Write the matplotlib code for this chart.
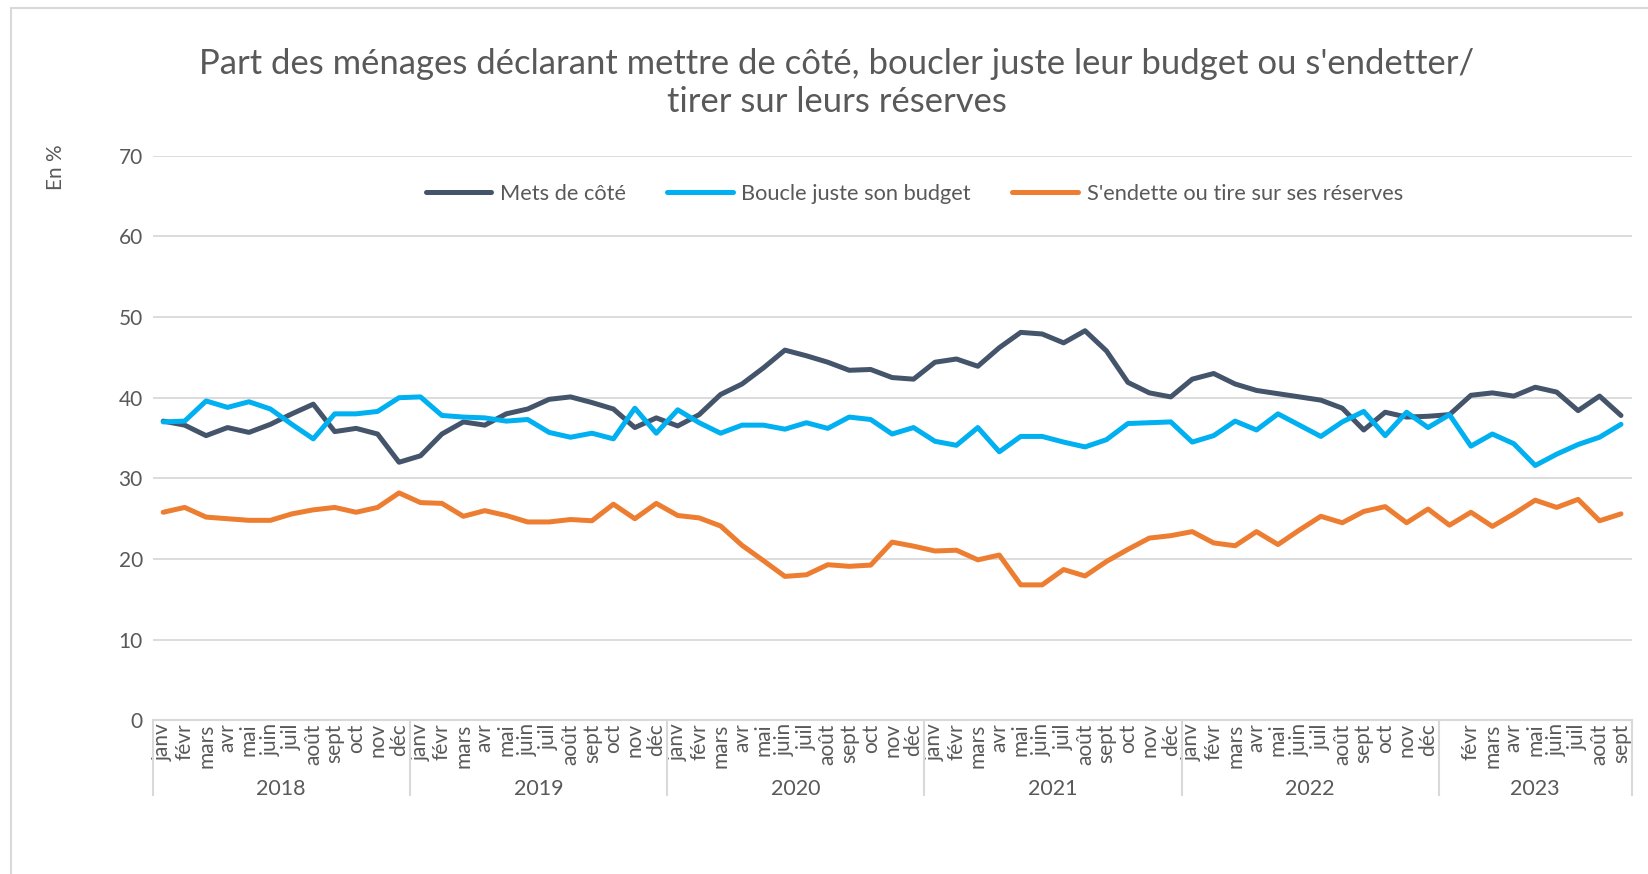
import matplotlib
matplotlib.use("Agg")
import matplotlib.pyplot as plt
from matplotlib.lines import Line2D

plt.rcParams['font.family'] = ['Lato', 'DejaVu Sans']

# ---------------- data ----------------
month_names = ["janv", "févr", "mars", "avr", "mai", "juin", "juil", "août",
               "sept", "oct", "nov", "déc"]
years = ["2018", "2019", "2020", "2021", "2022", "2023"]
months_in_year = [12, 12, 12, 12, 12, 9]

mets_de_cote = [37.1, 36.6, 35.3, 36.3, 35.7, 36.7, 38.0, 39.2, 35.8, 36.2, 35.5, 32.0,
                32.8, 35.5, 37.0, 36.6, 38.0, 38.6, 39.8, 40.1, 39.4, 38.6, 36.3, 37.5,
                36.5, 37.9, 40.4, 41.7, 43.7, 45.9, 45.2, 44.4, 43.4, 43.5, 42.5, 42.3,
                44.4, 44.8, 43.9, 46.2, 48.1, 47.9, 46.8, 48.3, 45.8, 41.9, 40.6, 40.1,
                42.3, 43.0, 41.7, 40.9, 40.5, 40.1, 39.7, 38.7, 36.0, 38.2, 37.6, 37.7,
                37.9, 40.3, 40.6, 40.2, 41.3, 40.7, 38.4, 40.2, 37.8]

boucle_budget = [37.0, 37.1, 39.6, 38.8, 39.5, 38.6, 36.7, 34.9, 38.0, 38.0, 38.3, 40.0,
                 40.1, 37.8, 37.6, 37.5, 37.1, 37.3, 35.7, 35.1, 35.6, 34.9, 38.7, 35.6,
                 38.5, 36.9, 35.6, 36.6, 36.6, 36.1, 36.9, 36.2, 37.6, 37.3, 35.5, 36.3,
                 34.6, 34.1, 36.3, 33.3, 35.2, 35.2, 34.5, 33.9, 34.8, 36.8, 36.9, 37.0,
                 34.5, 35.3, 37.1, 36.0, 38.0, 36.6, 35.2, 37.0, 38.3, 35.3, 38.2, 36.3,
                 37.9, 34.0, 35.5, 34.3, 31.6, 33.0, 34.2, 35.1, 36.7]

endette = [25.8, 26.4, 25.2, 25.0, 24.8, 24.8, 25.6, 26.1, 26.4, 25.8, 26.4, 28.2,
           27.0, 26.9, 25.3, 26.0, 25.4, 24.6, 24.6, 24.9, 24.75, 26.8, 25.0, 26.9,
           25.4, 25.1, 24.1, 21.7, 19.8, 17.85, 18.05, 19.3, 19.1, 19.25, 22.1, 21.6,
           21.0, 21.1, 19.9, 20.5, 16.8, 16.8, 18.7, 17.9, 19.7, 21.2, 22.6, 22.9,
           23.4, 22.0, 21.65, 23.4, 21.8, 23.6, 25.3, 24.5, 25.9, 26.5, 24.5, 26.2,
           24.2, 25.8, 24.05, 25.6, 27.3, 26.4, 27.4, 24.75, 25.6]

series_labels = ["Mets de côté", "Boucle juste son budget", "S'endette ou tire sur ses réserves"]
y_ticks = [0, 10, 20, 30, 40, 50, 60, 70]

# month tick labels (janv 2023 label is blank in the source)
tick_labels = []
for yi, n in enumerate(months_in_year):
    for m in range(n):
        lab = month_names[m]
        if years[yi] == "2023" and m == 0:
            lab = ""
        tick_labels.append(lab)

# ---------------- figure ----------------
W, H = 1649, 874
fig = plt.figure(figsize=(W / 100, H / 100), dpi=100)
TXT = "#595959"
GRID = "#d9d9d9"

left_px, right_px, top_px, bottom_px = 152.5, 1631.7, 155.7, 720.4
ax = fig.add_axes([left_px / W, 1 - bottom_px / H,
                   (right_px - left_px) / W, (bottom_px - top_px) / H])

x = list(range(len(mets_de_cote)))
colors = ["#44546A", "#00B0F0", "#ED7D31"]
for vals, c, lab in zip([mets_de_cote, boucle_budget, endette], colors, series_labels):
    ax.plot(x, vals, color=c, lw=3.6, label=lab, solid_joinstyle="round",
            solid_capstyle="round", zorder=3)

ax.set_xlim(-0.5, len(x) - 0.5)
ax.set_ylim(0, 70)
ax.set_yticks(y_ticks)
ax.set_yticklabels([str(v) for v in y_ticks], fontsize=15, color=TXT)
ax.tick_params(axis="y", length=0, pad=7)
ax.yaxis.grid(True, color=GRID, lw=1.3)
ax.set_axisbelow(True)
for s in ["top", "right", "left"]:
    ax.spines[s].set_visible(False)
ax.spines["bottom"].set_color(GRID)
ax.spines["bottom"].set_linewidth(1.5)

ax.set_xticks(x)
ax.set_xticklabels(tick_labels, rotation=90, fontsize=15, color=TXT)
ax.tick_params(axis="x", length=0, pad=2)

# year separators and labels
trans = ax.get_xaxis_transform()
sep_bottom = (bottom_px - 795) / (bottom_px - top_px)
pos = -0.5
ax.plot([pos, pos], [0, sep_bottom], transform=trans, color=GRID, lw=1.5, clip_on=False)
for yr, n in zip(years, months_in_year):
    start = pos
    pos += n
    ax.plot([pos, pos], [0, sep_bottom], transform=trans, color=GRID, lw=1.5, clip_on=False)
    ax.text((start + pos) / 2, (bottom_px - 789) / (bottom_px - top_px), yr,
            transform=trans, ha="center", va="center", fontsize=15.5, color=TXT)

# legend
leg = ax.legend(loc="center", bbox_to_anchor=(0.515, 0.933), ncol=3, frameon=False,
                fontsize=15.7, handlelength=3.0, handletextpad=0.4, columnspacing=1.9,
                labelcolor=TXT)
for h in leg.get_lines():
    h.set_linewidth(3.6)

# y axis label
fig.text(56 / W, 1 - 167 / H, "En %", rotation=90, ha="center", va="center",
         fontsize=15, color=TXT)

# title (auto-fit width)
title1 = "Part des ménages déclarant mettre de côté, boucler juste leur budget ou s'endetter/"
title2 = "tirer sur leurs réserves"
cx = 836.5 / W
t1 = fig.text(cx, 1 - 64 / H, title1, ha="center", va="center", fontsize=22, color=TXT)
t2 = fig.text(cx, 1 - 102 / H, title2, ha="center", va="center", fontsize=22, color=TXT)
fig.canvas.draw()
r = fig.canvas.get_renderer()
w = t1.get_window_extent(r).width
fs = 22 * 1268 / w
t1.set_fontsize(fs)
t2.set_fontsize(fs)

# outer border
fig.add_artist(Line2D([11 / W, 11 / W], [0, 1 - 8 / H], transform=fig.transFigure,
                      color=GRID, lw=1.5))
fig.add_artist(Line2D([11 / W, 1], [1 - 8 / H, 1 - 8 / H], transform=fig.transFigure,
                      color=GRID, lw=1.5))

fig.savefig("out.png", dpi=100, facecolor="white")
